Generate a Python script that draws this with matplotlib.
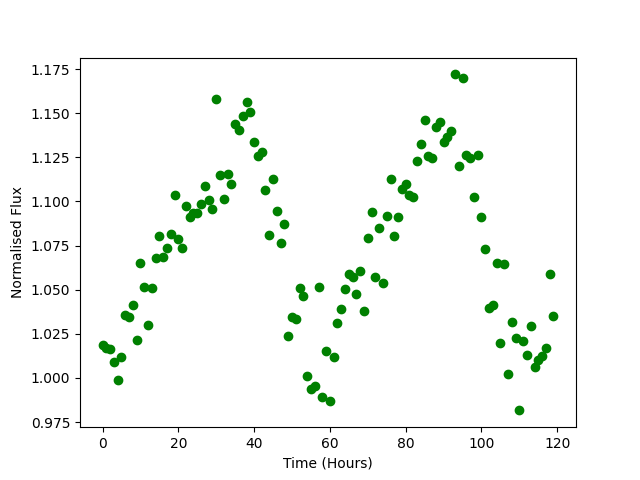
import matplotlib
matplotlib.use("Agg")
import matplotlib.pyplot as plt
import numpy as np

hours = np.arange(0, 120)

flux = [
    1.0186, 1.0168, 1.0162, 1.0088, 0.9986, 1.0118, 1.0355, 1.0347, 1.0411, 1.0213,
    1.0649, 1.0513, 1.0298, 1.0508, 1.0677, 1.0802, 1.0683, 1.0734, 1.0817, 1.1034,
    1.0785, 1.0734, 1.0972, 1.0910, 1.0933, 1.0933, 1.0983, 1.1085, 1.1008, 1.0955,
    1.1578, 1.1148, 1.1013, 1.1153, 1.1097, 1.1437, 1.1403, 1.1484, 1.1561, 1.1505,
    1.1336, 1.1257, 1.1281, 1.1064, 1.0808, 1.1125, 1.0944, 1.0762, 1.0870, 1.0236,
    1.0343, 1.0332, 1.0511, 1.0466, 1.0011, 0.9935, 0.9956, 1.0513, 0.9892, 1.0150,
    0.9867, 1.0117, 1.0309, 1.0390, 1.0504, 1.0590, 1.0570, 1.0474, 1.0606, 1.0377,
    1.0791, 1.0938, 1.0570, 1.0847, 1.0536, 1.0915, 1.1125, 1.0802, 1.0910, 1.1068,
    1.1098, 1.1036, 1.1023, 1.1227, 1.1323, 1.1461, 1.1257, 1.1247, 1.1423, 1.1448,
    1.1335, 1.1366, 1.1400, 1.1720, 1.1199, 1.1697, 1.1265, 1.1247, 1.1023, 1.1263,
    1.0910, 1.0729, 1.0394, 1.0411, 1.0649, 1.0196, 1.0644, 1.0020, 1.0315, 1.0226,
    0.9816, 1.0207, 1.0128, 1.0292, 1.0060, 1.0101, 1.0122, 1.0169, 1.0589, 1.0349,
]

plt.figure(figsize=(6.4, 4.8), dpi=100)
plt.plot(hours, flux, "o", color="green")
plt.xlabel("Time (Hours)")
plt.ylabel("Normalised Flux")
plt.savefig("out.png")
